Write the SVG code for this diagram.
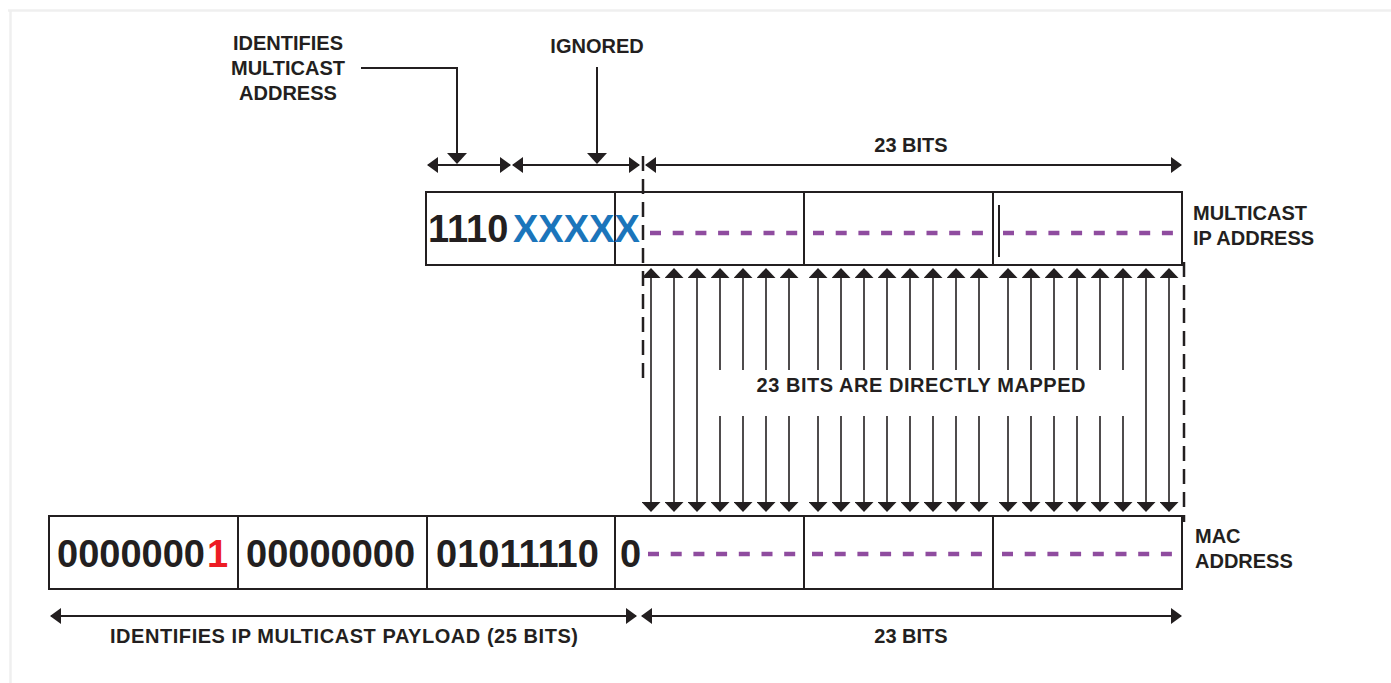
<svg xmlns="http://www.w3.org/2000/svg" width="1391" height="683" viewBox="0 0 1391 683">
<defs>
<marker id="ah" viewBox="0 0 11 16" refX="10" refY="8" markerWidth="11" markerHeight="16" markerUnits="userSpaceOnUse" orient="auto-start-reverse"><path d="M0,0 L11,8 L0,16 z" fill="#231f20"/></marker>
<marker id="am" viewBox="0 0 10 19" refX="9" refY="9.5" markerWidth="10" markerHeight="19" markerUnits="userSpaceOnUse" orient="auto-start-reverse"><path d="M0,0 L10,9.5 L0,19 z" fill="#231f20"/></marker>
<marker id="ac" viewBox="0 0 11 20" refX="10" refY="10" markerWidth="11" markerHeight="20" markerUnits="userSpaceOnUse" orient="auto"><path d="M0,0 L11,10 L0,20 z" fill="#231f20"/></marker>
</defs>
<style>
.box{fill:#fff;stroke:#231f20;stroke-width:2}
.div{stroke:#231f20;stroke-width:2;fill:none}
.lbl{font-family:"Liberation Sans",Arial,sans-serif;font-weight:bold;font-size:20px;fill:#231f20}
.big{font-family:"Liberation Sans",Arial,sans-serif;font-weight:bold;font-size:38px;fill:#231f20}
.blue{fill:#1b75bb}
.red{fill:#ed1c24}
.pd{stroke:#8f4c9f;stroke-width:4.5;stroke-dasharray:11 11.7;fill:none}
.dim{stroke:#231f20;stroke-width:2;fill:none;marker-start:url(#ah);marker-end:url(#ah)}
.map{stroke:#231f20;stroke-width:1.6;fill:none}
.up{marker-end:url(#am)}
.both{marker-start:url(#am);marker-end:url(#am)}
.vd{stroke:#231f20;stroke-width:2.5;stroke-dasharray:15 8;fill:none}
.call{stroke:#231f20;stroke-width:2;fill:none;marker-end:url(#ac)}
</style>
<g id="frame">
<path d="M8,10.5 H1391 M10.5,10 V683" stroke="#efefef" stroke-width="2.5" fill="none"/>
</g>
<g id="ip-address">
<rect class="box" x="426" y="192" width="756" height="73"/>
<path class="div" d="M615,192 V265 M804,192 V265 M993,192 V265"/>
<path class="div" d="M999,205 V257"/>
<text class="big" x="428" y="242">1110</text>
<text class="big blue" x="513" y="242">XXXXX</text>
<path class="pd" d="M650,233 H800 M813,233 H985 M1003,233 H1175"/>
<text class="lbl" x="1193" y="220">MULTICAST</text>
<text class="lbl" x="1193" y="245">IP ADDRESS</text>
</g>
<g id="mac-address">
<rect class="box" x="49" y="516" width="1133" height="73"/>
<path class="div" d="M238,516 V589 M427,516 V589 M615,516 V589 M804,516 V589 M993,516 V589"/>
<text class="big" x="57" y="567">0000000</text>
<text class="big red" x="207" y="567">1</text>
<text class="big" x="246" y="567">00000000</text>
<text class="big" x="436" y="567">01011110</text>
<text class="big" x="620" y="567">0</text>
<path class="pd" d="M648,554 H800 M812,554 H985 M1002,554 H1175"/>
<text class="lbl" x="1195" y="543">MAC</text>
<text class="lbl" x="1195" y="568">ADDRESS</text>
</g>
<g id="labels">
<text class="lbl" x="288" y="50" text-anchor="middle">IDENTIFIES</text>
<text class="lbl" x="288" y="75" text-anchor="middle">MULTICAST</text>
<text class="lbl" x="288" y="100" text-anchor="middle">ADDRESS</text>
<text class="lbl" x="597" y="53" text-anchor="middle">IGNORED</text>
<text class="lbl" x="911" y="152" text-anchor="middle">23 BITS</text>
<text class="lbl" x="921" y="392" text-anchor="middle" textLength="329">23 BITS ARE DIRECTLY MAPPED</text>
<text class="lbl" x="344" y="643" text-anchor="middle" textLength="468">IDENTIFIES IP MULTICAST PAYLOAD (25 BITS)</text>
<text class="lbl" x="911" y="643" text-anchor="middle">23 BITS</text>
</g>
<g id="connectors">
<path class="call" d="M361,68 H457 V163"/>
<path class="call" d="M597,67 V163"/>
<path class="dim" d="M428,165 H510"/>
<path class="dim" d="M513,165 H639"/>
<path class="dim" d="M646,165 H1181"/>
<path class="dim" d="M51,616 H636"/>
<path class="dim" d="M642,616 H1181"/>
<path class="vd" d="M643,156 V382"/>
<path class="vd" d="M1184,262 V522"/>
<path class="map both" d="M651,269 V511"/>
<path class="map both" d="M674,269 V511"/>
<path class="map both" d="M697,269 V511"/>
<path class="map both" d="M1146,269 V511"/>
<path class="map both" d="M1169,269 V511"/>
<path class="map up" d="M720,370 V269"/>
<path class="map up" d="M743,370 V269"/>
<path class="map up" d="M766,370 V269"/>
<path class="map up" d="M789,370 V269"/>
<path class="map up" d="M818,370 V269"/>
<path class="map up" d="M841,370 V269"/>
<path class="map up" d="M864,370 V269"/>
<path class="map up" d="M887,370 V269"/>
<path class="map up" d="M910,370 V269"/>
<path class="map up" d="M933,370 V269"/>
<path class="map up" d="M956,370 V269"/>
<path class="map up" d="M979,370 V269"/>
<path class="map up" d="M1008,370 V269"/>
<path class="map up" d="M1031,370 V269"/>
<path class="map up" d="M1054,370 V269"/>
<path class="map up" d="M1077,370 V269"/>
<path class="map up" d="M1100,370 V269"/>
<path class="map up" d="M1123,370 V269"/>
<path class="map up" d="M720,416 V511"/>
<path class="map up" d="M743,416 V511"/>
<path class="map up" d="M766,416 V511"/>
<path class="map up" d="M789,416 V511"/>
<path class="map up" d="M818,416 V511"/>
<path class="map up" d="M841,416 V511"/>
<path class="map up" d="M864,416 V511"/>
<path class="map up" d="M887,416 V511"/>
<path class="map up" d="M910,416 V511"/>
<path class="map up" d="M933,416 V511"/>
<path class="map up" d="M956,416 V511"/>
<path class="map up" d="M979,416 V511"/>
<path class="map up" d="M1008,416 V511"/>
<path class="map up" d="M1031,416 V511"/>
<path class="map up" d="M1054,416 V511"/>
<path class="map up" d="M1077,416 V511"/>
<path class="map up" d="M1100,416 V511"/>
<path class="map up" d="M1123,416 V511"/>
</g>
</svg>
